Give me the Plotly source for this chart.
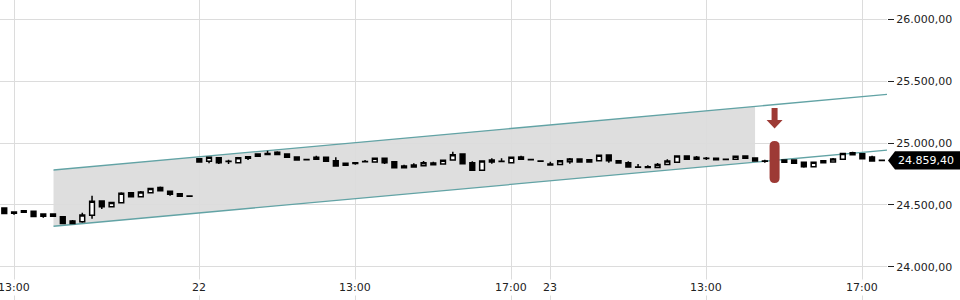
import plotly.graph_objects as go

# ---------------- data ----------------
candle_idx = list(range(91))
opens = [24474, 24442, 24452, 24448, 24408, 24426, 24404, 24350, 24364, 24416,
         24531, 24485, 24517, 24598, 24566, 24598, 24640, 24610, 24590, 24572,
         24873, 24852, 24881, 24853, 24841, 24889, 24893, 24916, 24925, 24911,
         24887, 24867, 24868, 24884, 24857, 24820, 24841, 24850, 24846, 24876,
         24849, 24814, 24822, 24817, 24838, 24830, 24863, 24911, 24841, 24779,
         24862, 24853, 24841, 24887, 24866, 24855, 24822, 24827, 24849, 24870,
         24846, 24857, 24903, 24857, 24841, 24807, 24808, 24803, 24827, 24844,
         24895, 24884, 24877, 24876, 24869, 24868, 24895, 24878, 24855, 24860,
         24844, 24862, 24844, 24809, 24857, 24846, 24868, 24922, 24913, 24887,
         24860]
highs = [24478, 24446, 24458, 24450, 24428, 24428, 24406, 24377, 24437, 24574,
         24533, 24522, 24601, 24604, 24612, 24635, 24648, 24612, 24592, 24573,
         24875, 24886, 24883, 24865, 24883, 24891, 24913, 24938, 24933, 24913,
         24889, 24868, 24897, 24886, 24884, 24838, 24843, 24863, 24878, 24878,
         24851, 24825, 24836, 24854, 24849, 24862, 24930, 24913, 24852, 24856,
         24876, 24876, 24886, 24897, 24867, 24856, 24849, 24859, 24879, 24872,
         24867, 24903, 24905, 24859, 24852, 24830, 24820, 24838, 24868, 24897,
         24900, 24895, 24887, 24878, 24870, 24894, 24897, 24880, 24865, 24862,
         24864, 24864, 24846, 24846, 24859, 24879, 24918, 24930, 24915, 24897,
         24861]
lows = [24428, 24420, 24434, 24403, 24396, 24405, 24348, 24348, 24356, 24388,
        24467, 24483, 24515, 24564, 24564, 24596, 24613, 24574, 24568, 24569,
        24844, 24836, 24830, 24830, 24839, 24863, 24891, 24906, 24906, 24882,
        24861, 24864, 24866, 24850, 24812, 24818, 24825, 24847, 24844, 24830,
        24798, 24798, 24804, 24811, 24820, 24828, 24861, 24831, 24777, 24777,
        24833, 24850, 24839, 24866, 24863, 24852, 24820, 24825, 24833, 24844,
        24844, 24855, 24841, 24836, 24804, 24804, 24801, 24801, 24825, 24842,
        24866, 24866, 24863, 24863, 24860, 24866, 24874, 24853, 24841, 24844,
        24842, 24834, 24800, 24807, 24839, 24841, 24866, 24904, 24871, 24853,
        24858]
closes = [24430, 24432, 24440, 24405, 24426, 24407, 24350, 24369, 24418, 24529,
          24485, 24520, 24593, 24566, 24604, 24633, 24615, 24585, 24570, 24570,
          24846, 24884, 24841, 24851, 24881, 24876, 24911, 24908, 24908, 24884,
          24863, 24865, 24884, 24852, 24814, 24836, 24834, 24848, 24876, 24841,
          24800, 24800, 24806, 24841, 24825, 24860, 24905, 24833, 24779, 24854,
          24846, 24851, 24884, 24868, 24864, 24853, 24830, 24857, 24870, 24846,
          24865, 24901, 24857, 24838, 24806, 24805, 24803, 24827, 24854, 24895,
          24868, 24868, 24875, 24865, 24867, 24892, 24876, 24855, 24853, 24846,
          24862, 24836, 24809, 24844, 24841, 24870, 24916, 24906, 24873, 24855,
          24859.4]

x_tick_idx = [1, 20, 36, 52, 56, 72, 88]
x_tick_text = ["13:00", "22", "13:00", "17:00", "23", "13:00", "17:00"]

y_ticks = [24000, 24500, 25000, 25500, 26000]
x_range = [-0.44, 90.53]
y_range = [23731, 26156]

# trend channel
channel_x = [5.05, 90.53]
channel_upper = [24782, 25393]
channel_lower = [24327, 24943]
shade_end = 77.0

# signal marker
marker_index = 79
marker_high = 25016
marker_low = 24677

last_price = closes[-1]

TEAL = "#62a3a5"
RED = "#9d3a35"
GRID = "#dcdcdc"
FONT = "DejaVu Sans"

# ---------------- figure ----------------
fig = go.Figure()


def lin(xv, xs, ys):
    return ys[0] + (ys[1] - ys[0]) * (xv - xs[0]) / (xs[1] - xs[0])


up_end = lin(shade_end, channel_x, channel_upper)
lo_end = lin(shade_end, channel_x, channel_lower)
shade_path = (f"M{channel_x[0]},{channel_upper[0]} L{shade_end},{up_end} "
              f"L{shade_end},{lo_end} L{channel_x[0]},{channel_lower[0]} Z")
fig.add_shape(type="path", xref="x", yref="y", path=shade_path,
              fillcolor="#dedede", line=dict(width=0), layer="below")

for ys in (channel_upper, channel_lower):
    fig.add_shape(type="line", xref="x", yref="y",
                  x0=channel_x[0], x1=channel_x[1], y0=ys[0], y1=ys[1],
                  line=dict(color=TEAL, width=1.3), layer="between")

fig.add_trace(go.Candlestick(
    x=candle_idx, open=opens, high=highs, low=lows, close=closes,
    increasing=dict(fillcolor="white", line=dict(color="black", width=1.5)),
    decreasing=dict(fillcolor="black", line=dict(color="black", width=1.5)),
    whiskerwidth=0, hoverinfo="skip"))

unit_per_px = (y_range[1] - y_range[0]) / 300.0
r = 5 * unit_per_px
pill = (f"M-5,{marker_high - r} Q-5,{marker_high} 0,{marker_high} "
        f"Q5,{marker_high} 5,{marker_high - r} L5,{marker_low + r} "
        f"Q5,{marker_low} 0,{marker_low} Q-5,{marker_low} -5,{marker_low + r} Z")
fig.add_shape(type="path", xref="x", xsizemode="pixel", xanchor=marker_index,
              yref="y", ysizemode="scaled", path=pill,
              fillcolor=RED, line=dict(width=0), layer="above")

fig.add_shape(type="path", xref="x", xsizemode="pixel", xanchor=marker_index,
              yref="y", ysizemode="pixel", yanchor=marker_high,
              path="M-3,33 L3,33 L3,21 L8,21 L0,12.5 L-8,21 L-3,21 Z",
              fillcolor=RED, line=dict(width=0), layer="above")

# last price tag
fig.add_shape(type="path", xref="paper", xsizemode="pixel", xanchor=1,
              yref="y", ysizemode="pixel", yanchor=last_price,
              path="M1,0 L8,9.2 L73,9.2 L73,-9.2 L8,-9.2 Z",
              fillcolor="black", line=dict(width=0), layer="above")
fig.add_annotation(x=1, xref="paper", xanchor="left", xshift=9,
                   y=last_price, yref="y", yanchor="middle",
                   text=f"{last_price:,.2f}".replace(",", "X").replace(".", ",").replace("X", "."),
                   showarrow=False, font=dict(family=FONT, size=11, color="white"))

for xi, lab in zip(x_tick_idx, x_tick_text):
    fig.add_annotation(x=xi, xref="x", y=13 / 300, yref="paper", yanchor="middle",
                       text=lab, showarrow=False, bgcolor="white", borderpad=1,
                       font=dict(family=FONT, size=11, color="#222"))

fig.update_layout(
    width=960, height=300, margin=dict(l=0, r=73, t=0, b=0),
    paper_bgcolor="white", plot_bgcolor="white", showlegend=False,
    separators=",.", font=dict(family=FONT, size=11, color="#222"))
fig.update_xaxes(range=x_range, tickvals=x_tick_idx, showticklabels=False,
                 showgrid=True, gridcolor=GRID, gridwidth=1, zeroline=False,
                 showline=False, ticks="", rangeslider_visible=False)
fig.update_yaxes(side="right", range=y_range, tickvals=y_ticks, tickformat=",.2f",
                 showgrid=True, gridcolor=GRID, gridwidth=1, zeroline=False,
                 showline=False, ticks="outside", ticklen=6, tickcolor="#222",
                 tickfont=dict(family=FONT, size=11, color="#222"))

fig.write_html("out.html")
